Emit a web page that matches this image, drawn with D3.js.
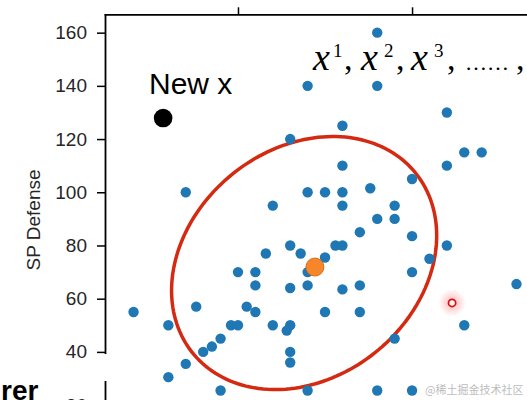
<!DOCTYPE html>
<html><head><meta charset="utf-8">
<script src="https://cdn.jsdelivr.net/npm/d3@7"></script>
<style>html,body{margin:0;padding:0;background:#fff;overflow:hidden}</style>
</head><body>
<svg id="c" width="527" height="400" xmlns="http://www.w3.org/2000/svg"></svg>
<script>
// Water-type samples: Defense (x) vs SP Defense (y)
const defense = [90,70,90,110,80,65,35,115,120,80,110,100,70,75,80,88,60,80,95,90,95,85,100,65,78,80,110,58,68,75,105,70,100,130,50,55,55,65,70,80,85,20,30,38,52.5,55,75,85,48,50,60,65,64,115,45,95,42.5,40,65,65,35,30,45,70,90,100,20];
const spDefense = [160,140,140,130,125,120,100,115,115,110,110,105,100,100,100,101.5,95,95,95,90,90,85,83.5,80,80,80,80,77,77,75.5,75,70,70,65.5,70,70,65,64,65,63.5,65,55,50,57,57,55,55,55,50,50,50,50,48,50,45,45,42,40,40,36,35.5,30.5,25.5,25.5,25.5,25.5,20];
const newX = [28.5, 127.9];
const meanPoint = [72.1, 71.9];
const highlight = [111.5, 58.4];
const ellipseCenter = [69, 73.4];
const ellipseCov = [[1450, 394], [394, 2262]];
const yTicks = [20, 40, 60, 80, 100, 120, 140, 160];
const xTicks = [50, 100];
const yLabel = "SP Defense";
const newXLabel = "New x";
const seqParts = [
  {t: "x", k: "var", px: 313}, {t: "1", k: "sup", px: 333}, {t: ",", k: "punct", px: 344},
  {t: "x", k: "var", px: 361}, {t: "2", k: "sup", px: 384}, {t: ",", k: "punct", px: 396},
  {t: "x", k: "var", px: 411}, {t: "3", k: "sup", px: 434}, {t: ",", k: "punct", px: 447},
  {t: "……", k: "dots", px: 465}, {t: ",", k: "punct", px: 516}
];
const cutText = "rer";
const watermark = "@稀土掘金技术社区";

const svg = d3.select("#c");
const x = d3.scaleLinear().domain([11.8, 142.5]).range([105, 560]);
const y = d3.scaleLinear().domain([15, 166.9]).range([418.4, 14.3]);

const defs = svg.append("defs");
const rg = defs.append("radialGradient").attr("id", "glow");
rg.append("stop").attr("offset", "0%").attr("stop-color", "#ff4a4a").attr("stop-opacity", 0.45);
rg.append("stop").attr("offset", "60%").attr("stop-color", "#ff6b6b").attr("stop-opacity", 0.2);
rg.append("stop").attr("offset", "100%").attr("stop-color", "#ff8080").attr("stop-opacity", 0);

// Ellipse (covariance contour) drawn through the scales
const L11 = Math.sqrt(ellipseCov[0][0]);
const L21 = ellipseCov[1][0] / L11;
const L22 = Math.sqrt(ellipseCov[1][1] - L21 * L21);
const ts = d3.range(0, 2 * Math.PI + 0.001, Math.PI / 90);
const ell = ts.map(t => [ellipseCenter[0] + L11 * Math.cos(t), ellipseCenter[1] + L21 * Math.cos(t) + L22 * Math.sin(t)]);
svg.append("path")
  .attr("d", d3.line().x(d => x(d[0])).y(d => y(d[1]))(ell) + "Z")
  .attr("fill", "none").attr("stroke", "#d42a12").attr("stroke-width", 3.5);

// Points
const pts = defense.map((d, i) => [d, spDefense[i]]);
svg.append("g").selectAll("circle").data(pts).join("circle")
  .attr("cx", d => x(d[0])).attr("cy", d => y(d[1])).attr("r", 5.2)
  .attr("fill", "#1f77b4");

svg.append("circle").attr("cx", x(meanPoint[0])).attr("cy", y(meanPoint[1])).attr("r", 9)
  .attr("fill", "#f7862a").attr("stroke", "#d96f1a").attr("stroke-width", 1);

svg.append("circle").attr("cx", x(newX[0])).attr("cy", y(newX[1])).attr("r", 9.3).attr("fill", "#000");

svg.append("circle").attr("cx", x(highlight[0])).attr("cy", y(highlight[1])).attr("r", 14).attr("fill", "url(#glow)");
svg.append("circle").attr("cx", x(highlight[0])).attr("cy", y(highlight[1])).attr("r", 3.6)
  .attr("fill", "#fff3f3").attr("stroke", "#d41010").attr("stroke-width", 1.7);

// Axes
const font = "'Liberation Sans', Arial, sans-serif";
const gy = svg.append("g").attr("transform", "translate(105,0)")
  .call(d3.axisLeft(y).tickValues(yTicks).tickSize(8).tickPadding(10).tickSizeOuter(0));
const gx = svg.append("g").attr("transform", "translate(0,14.3)")
  .call(d3.axisTop(x).tickValues(xTicks).tickSize(7).tickFormat("").tickSizeOuter(0));
[gy, gx].forEach(g => {
  g.select(".domain").attr("stroke", "#000").attr("stroke-width", 1.8).attr("stroke-linecap", "square");
  g.selectAll(".tick line").attr("stroke", "#000").attr("stroke-width", 1.5);
  g.selectAll(".tick text").attr("font-family", font).attr("font-size", 19).attr("fill", "#262626");
});

svg.append("text").attr("transform", "translate(40,220) rotate(-90)")
  .attr("text-anchor", "middle").attr("font-family", font).attr("font-size", 19).attr("fill", "#262626")
  .text(yLabel);

// gap in left spine (overlay artifact)
svg.append("rect").attr("x", 100).attr("y", 354).attr("width", 10).attr("height", 27).attr("fill", "#fff");

// Annotations
svg.append("text").attr("x", 149).attr("y", 94).attr("font-family", font).attr("font-size", 30).attr("fill", "#000").text(newXLabel);

const seq = svg.append("g").attr("fill", "#000");
seqParts.forEach(p => {
  const t = seq.append("text").attr("x", p.px).text(p.t);
  if (p.k === "var") t.attr("y", 70).attr("font-family", "'Liberation Serif', serif").attr("font-style", "italic").attr("font-size", 38);
  else if (p.k === "sup") t.attr("y", 57).attr("font-family", "'Liberation Serif', serif").attr("font-size", 19);
  else if (p.k === "punct") t.attr("y", 70).attr("font-family", "'Liberation Serif', serif").attr("font-size", 34);
  else t.attr("y", 70).attr("font-family", "'Liberation Serif', serif").attr("font-size", 22);
});

svg.append("text").attr("x", 1).attr("y", 400).attr("font-family", font).attr("font-weight", "bold")
  .attr("font-size", 28).attr("fill", "#000").text(cutText);

svg.append("text").attr("x", 425).attr("y", 394).attr("font-family", "'Noto Sans CJK SC', sans-serif")
  .attr("font-size", 11).attr("fill", "#bdbdbd").text(watermark);
</script>
</body></html>
